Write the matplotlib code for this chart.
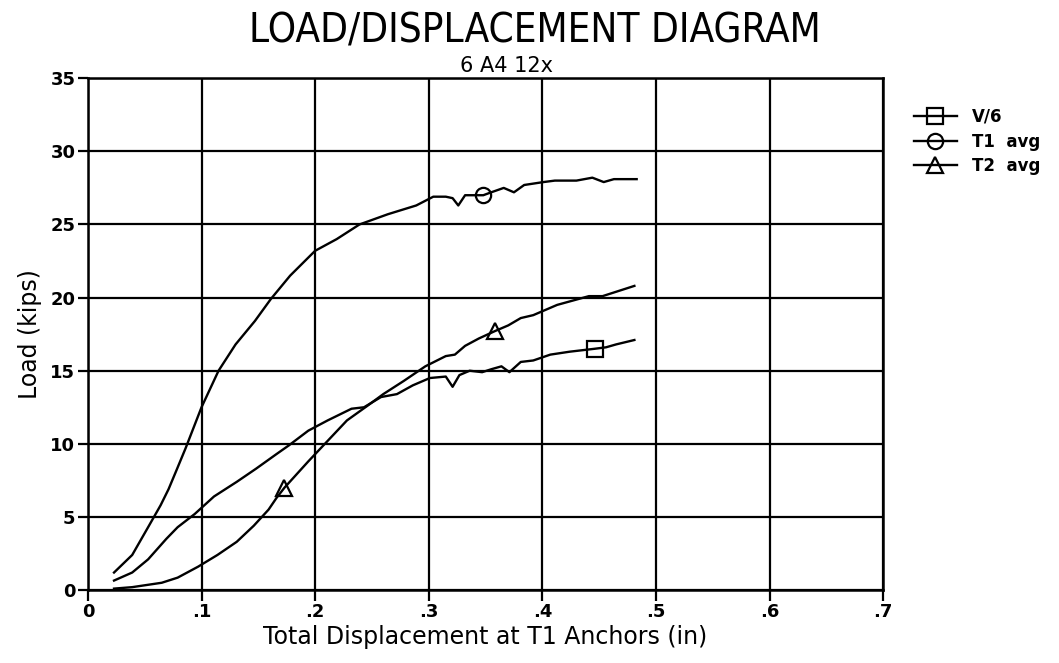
import numpy as np
from matplotlib import pyplot as plt

# load readings, kips vs total displacement, in
v6_x = [0.023, 0.039, 0.053, 0.069, 0.079, 0.094, 0.111, 0.131, 0.148, 0.166, 0.177, 0.194,
        0.211, 0.232, 0.243, 0.258, 0.272, 0.286, 0.301, 0.315, 0.321, 0.327, 0.336, 0.347,
        0.355, 0.364, 0.371, 0.381, 0.392, 0.407, 0.424, 0.435, 0.446, 0.456, 0.465, 0.481]
v6_y = [0.65, 1.2, 2.1, 3.5, 4.3, 5.2, 6.4, 7.4, 8.3, 9.3, 9.9, 10.9,
        11.6, 12.4, 12.5, 13.2, 13.4, 14.0, 14.5, 14.6, 13.9, 14.7, 15.0, 14.9,
        15.1, 15.3, 14.9, 15.6, 15.7, 16.1, 16.3, 16.4, 16.5, 16.6, 16.8, 17.1]

t1_x = [0.023, 0.039, 0.053, 0.064, 0.071, 0.078, 0.086, 0.100, 0.115, 0.130, 0.147, 0.161,
        0.178, 0.200, 0.219, 0.239, 0.264, 0.289, 0.304, 0.315, 0.321, 0.326, 0.332, 0.348,
        0.355, 0.366, 0.375, 0.384, 0.401, 0.411, 0.430, 0.444, 0.454, 0.463, 0.483]
t1_y = [1.2, 2.4, 4.3, 5.8, 6.9, 8.2, 9.7, 12.5, 15.0, 16.8, 18.4, 19.9,
        21.5, 23.2, 24.0, 25.0, 25.7, 26.3, 26.9, 26.9, 26.8, 26.3, 27.0, 27.0,
        27.2, 27.5, 27.2, 27.7, 27.9, 28.0, 28.0, 28.2, 27.9, 28.1, 28.1]

t2_x = [0.023, 0.039, 0.065, 0.079, 0.097, 0.114, 0.131, 0.146, 0.159, 0.166, 0.173, 0.194,
        0.211, 0.228, 0.246, 0.260, 0.278, 0.297, 0.315, 0.323, 0.332, 0.344, 0.358, 0.370,
        0.381, 0.392, 0.398, 0.413, 0.427, 0.441, 0.453, 0.461, 0.481]
t2_y = [0.1, 0.2, 0.5, 0.85, 1.6, 2.4, 3.3, 4.4, 5.5, 6.3, 7.0, 8.8,
        10.2, 11.6, 12.6, 13.4, 14.3, 15.3, 16.0, 16.1, 16.7, 17.2, 17.7, 18.1,
        18.6, 18.8, 19.0, 19.5, 19.8, 20.1, 20.1, 20.3, 20.8]

# displacements where the plotter put a symbol
v6_marks = [0.446]
t1_marks = [0.348]
t2_marks = [0.173, 0.358]

x_ticks = [0, 0.1, 0.2, 0.3, 0.4, 0.5, 0.6, 0.7]
x_labels = ['0', '.1', '.2', '.3', '.4', '.5', '.6', '.7']
y_ticks = [0, 5, 10, 15, 20, 25, 30, 35]

series = [
    ('V/6', v6_x, v6_y, v6_marks, 's'),
    ('T1  avg', t1_x, t1_y, t1_marks, 'o'),
    ('T2  avg', t2_x, t2_y, t2_marks, '^'),
]

fig = plt.figure(figsize=(10.59, 6.63), dpi=100)
ax = fig.add_axes([0.083, 0.110, 0.751, 0.772])

for name, xs, ys, marks, sym in series:
    idx = [int(np.argmin(np.abs(np.array(xs) - m))) for m in marks]
    ax.plot(xs, ys, color='black', lw=1.7, marker=sym, markevery=idx,
            markersize=11, markerfacecolor='none', markeredgecolor='black',
            markeredgewidth=1.6, label=name)

ax.set_xlim(0, 0.7)
ax.set_ylim(0, 35)
ax.set_xticks(x_ticks)
ax.set_xticklabels(x_labels)
ax.set_yticks(y_ticks)
ax.grid(True, color='black', lw=1.6)
for sp in ax.spines.values():
    sp.set_linewidth(1.8)
ax.tick_params(axis='x', direction='out', length=8, width=1.6, labelsize=13, pad=1)
ax.tick_params(axis='y', direction='out', length=7, width=1.6, labelsize=13, pad=2)
for lab in ax.get_xticklabels() + ax.get_yticklabels():
    lab.set_fontweight('bold')

ax.set_xlabel('Total Displacement at T1 Anchors (in)', fontsize=17, labelpad=3)
ax.set_ylabel('Load (kips)', fontsize=17, labelpad=6)

fig.text(0.505, 0.952, 'LOAD/DISPLACEMENT DIAGRAM', ha='center', va='center',
         fontsize=29, fontstretch='condensed', fontweight='light',
         family=['DejaVu Sans', 'Liberation Sans'])
fig.text(0.478, 0.900, '6 A4 12x', ha='center', va='center', fontsize=15)

leg = ax.legend(loc='upper left', bbox_to_anchor=(1.03, 0.955), frameon=False,
                handlelength=2.6, handletextpad=0.9, labelspacing=0.4,
                prop={'size': 12, 'weight': 'bold'}, borderaxespad=0)

fig.savefig('out.png', dpi=100)
